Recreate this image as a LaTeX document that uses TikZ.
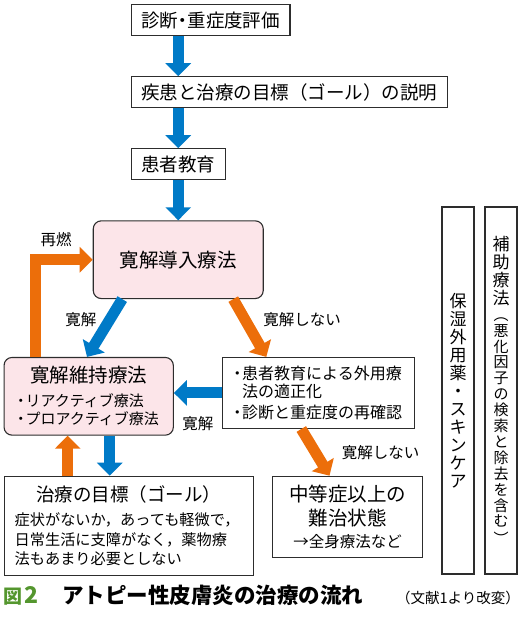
\documentclass[tikz,border=0pt]{standalone}
\usepackage{fontspec}
\setmainfont{Noto Sans CJK JP}
\usepackage{xcolor}
\usepackage{tikz}
\usetikzlibrary{arrows.meta,positioning}

\definecolor{arrblue}{RGB}{0,122,199}
\definecolor{arrorange}{RGB}{236,110,10}
\definecolor{pinkfill}{RGB}{252,229,233}
\definecolor{figgreen}{RGB}{84,150,46}
\definecolor{linegray}{RGB}{45,45,45}
\newcommand\bul{\makebox[0.62em][c]{・}}

\begin{document}
\begin{tikzpicture}[
  x=1pt, y=-1pt,
  box/.style={draw=linegray, line width=1.1pt, inner xsep=10pt, inner ysep=0pt,
              minimum height=31pt, font=\fontsize{18.5}{22}\selectfont},
  pbox/.style={box, fill=pinkfill, rounded corners=8pt, minimum width=170pt,
              minimum height=77.7pt, font=\fontsize{19.5}{22}\selectfont},
  vbox/.style={draw=linegray, line width=1.1pt, inner sep=0pt, minimum width=32pt,
              minimum height=367pt, text width=20pt, align=center,
              font=\fontsize{17}{18}\selectfont},
  lbl/.style={inner sep=0pt, font=\fontsize{15.5}{16}\selectfont},
  captext/.style={inner sep=0pt, anchor=base west},
  barr/.style={draw=arrblue, line width=11pt, -{Triangle[length=13pt,width=25pt]}},
  oarr/.style={barr, draw=arrorange}
]
\useasboundingbox (0,0) rectangle (521,625);

\node[box, anchor=north west] (diag) at (130.7,4) {診断\makebox[0.5em][c]{・}重症度評価};
\node[box, below right=40pt and 0pt of diag.south west] (expl) {疾患と治療の目標（ゴール）の説明};
\node[box, below right=40pt and 0pt of expl.south west] (edu) {患者教育};
\node[pbox, below=40pt of edu] (induct) {寛解導入療法};
\node[pbox, minimum width=169.3pt, text width=145pt, align=left,
      font=\fontsize{15}{18.3}\selectfont] (maint) at (88.7,396.3)
  {\makebox[\linewidth]{\fontsize{19.5}{18.3}\selectfont 寛解維持療法}\\[5.4pt]
   \bul リアクティブ療法\\\bul プロアクティブ療法};
\node[box, minimum width=192.3pt, minimum height=71pt, text width=172pt, align=left,
      font=\fontsize{16}{18.3}\selectfont,
      right=47.7pt of maint.north east, anchor=north west] (check)
  {\bul 患者教育による外用療\\\hspace*{0.62em}法の適正化\\[2.4pt]\bul 診断と重症度の再確認};
\node[box, minimum width=249.3pt, minimum height=99.3pt, text width=228pt, align=left,
      font=\fontsize{15.2}{19.5}\selectfont,
      below right=40pt and 0pt of maint.south west] (goal)
  {\makebox[\linewidth]{\fontsize{18.5}{19.5}\selectfont 治療の目標（ゴール）}\\[4.8pt]
   症状がないか，あっても軽微で，\\日常生活に支障がなく，薬物療\\法もあまり必要としない};
\node[box, minimum width=149.3pt, minimum height=81pt, align=center,
      font=\fontsize{19.5}{24.3}\selectfont,
      right=18.4pt of goal.north east, anchor=north west] (severe)
  {中等症以上の\\難治状態\\[-2.6pt]{\fontsize{15.5}{16}\selectfont →全身療法など}};
\node[vbox] (moist) at (458,390.5) {保\\湿\\外\\用\\薬\\・\\ス\\キ\\ン\\ケ\\ア};
\node[vbox] (aux) at (501,390.5)
  {補\\助\\療\\法\par\fontsize{15}{15.9}\selectfont
   ︵\\悪\\化\\因\\子\\の\\検\\索\\と\\除\\去\\を\\含\\む\\︶};

\draw[barr] (diag.south -| edu) -- (expl.north -| edu);
\draw[barr] (expl.south -| edu) -- (edu.north);
\draw[barr] (edu) -- (induct);
\draw[barr] ([xshift=-56pt]induct.south) -- node[lbl, pos=0.35, left=8pt] {寛解} ([xshift=-1.7pt]maint.north);
\draw[oarr] ([xshift=55pt]induct.south) -- node[lbl, pos=0.35, right=13pt] {寛解しない} ([xshift=-52pt]check.north);
\draw[barr] (check.west) -- node[lbl, below=18pt] {寛解} (check.west -| maint.east);
\draw[oarr] ([xshift=-17pt]check.south) -- node[lbl, pos=0.5, right=21pt] {寛解しない} ([xshift=-18pt]severe.north);
\draw[oarr] ([xshift=-53pt]maint.north) |- node[lbl, pos=0.68, above=7pt] {再燃} (induct.west);
\draw[oarr] ([xshift=-61pt]goal.north) -- ([xshift=-21pt]maint.south);
\draw[barr] ([xshift=21pt]maint.south) -- ([xshift=-19pt]goal.north);

\node[captext, font=\fontsize{19}{20}\selectfont\bfseries, text=figgreen] (fignum) at (3,603)
  {図\kern2pt{\fontsize{23}{24}\selectfont 2}};
\node[captext, font=\fontsize{21.5}{22}\selectfont\bfseries] (figtitle) at (62,603) {アトピー性皮膚炎の治療の流れ};
\node[captext, anchor=base east, font=\fontsize{14.5}{15}\selectfont] (figsrc) at (520,603) {（文献1より改変）};
\end{tikzpicture}
\end{document}
